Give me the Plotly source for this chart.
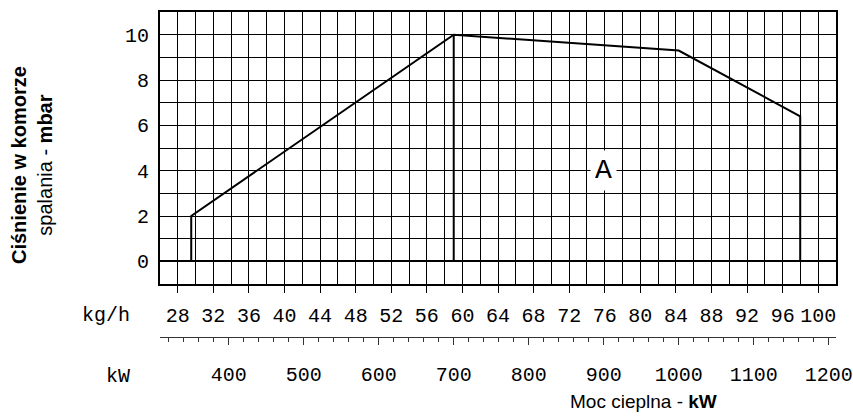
import plotly.graph_objects as go

# ---- data ----
KW_PER_KGH = 11.86                      # conversion kg/h -> kW
curve_kw = [350, 350, 700, 1000, 1162, 1162]
curve_mbar = [0, 2, 10, 9.3, 6.4, 0]
split_kw = [700, 700]
split_mbar = [10, 0]
kgh_ticks = list(range(28, 101, 4))
kw_ticks = list(range(400, 1201, 100))
mbar_ticks = list(range(0, 11, 2))
region_label = "A"
region_pos_kw = (900, 4)                # kW, mbar

X_RANGE_KGH = [26, 102]
Y_RANGE = [-1, 11]

# ---- layout helpers (pixel -> paper) ----
W, H = 853, 419
ML, MR, MT, MB = 160, 17, 12, 19
PW, PH = W - ML - MR, H - MT - MB


def px(x):
    return (x - ML) / PW


def py(y):
    return (H - MB - y) / PH


def to_kgh(values):
    return [v / KW_PER_KGH for v in values]


TICKFONT = dict(family="Liberation Mono, DejaVu Sans Mono, monospace", size=20, color="black")
TITLEFONT = dict(family="Liberation Sans, Arial, sans-serif", size=20, color="black")

fig = go.Figure()
fig.add_trace(go.Scatter(x=to_kgh(curve_kw), y=curve_mbar, xaxis="x", yaxis="y", mode="lines",
                         line=dict(color="black", width=2), showlegend=False, hoverinfo="skip"))
fig.add_trace(go.Scatter(x=to_kgh(split_kw), y=split_mbar, xaxis="x", yaxis="y", mode="lines",
                         line=dict(color="black", width=2), showlegend=False, hoverinfo="skip"))
# invisible trace to activate the kW axis
fig.add_trace(go.Scatter(x=[kw_ticks[0]], y=[0], xaxis="x2", yaxis="y", mode="markers",
                         marker=dict(opacity=0), showlegend=False, hoverinfo="skip"))

fig.update_layout(
    width=W, height=H,
    margin=dict(l=ML, r=MR, t=MT, b=MB, pad=0, autoexpand=False),
    plot_bgcolor="white", paper_bgcolor="white",
    xaxis=dict(
        range=X_RANGE_KGH, tickvals=kgh_ticks, ticktext=[str(v) for v in kgh_ticks],
        showgrid=True, gridcolor="black", gridwidth=1,
        minor=dict(dtick=2, tick0=26, showgrid=True, gridcolor="black", gridwidth=1, ticks=""),
        ticks="outside", ticklen=7, tickwidth=1, tickcolor="black",
        showline=True, linecolor="black", linewidth=2, mirror=True,
        zeroline=False, tickfont=TICKFONT, ticklabelstandoff=5,
        anchor="y", fixedrange=True, automargin=False,
    ),
    xaxis2=dict(
        range=[X_RANGE_KGH[0] * KW_PER_KGH, X_RANGE_KGH[1] * KW_PER_KGH],
        overlaying="x", anchor="free", position=py(336.7), side="bottom",
        tickvals=kw_ticks, ticktext=[str(v) for v in kw_ticks],
        showgrid=False, zeroline=False,
        ticks="outside", ticklen=7, tickwidth=1, tickcolor="#333",
        minor=dict(dtick=20, tick0=0, ticks="outside", ticklen=4, tickwidth=1, tickcolor="#333", showgrid=False),
        showline=True, linecolor="#333", linewidth=1,
        tickfont=TICKFONT, ticklabelstandoff=12, fixedrange=True, automargin=False,
    ),
    yaxis=dict(
        domain=[py(284), 1], range=Y_RANGE, tickvals=mbar_ticks,
        showgrid=True, gridcolor="black", gridwidth=1,
        minor=dict(dtick=1, tick0=0, showgrid=True, gridcolor="black", gridwidth=1, ticks=""),
        ticks="", showline=True, linecolor="black", linewidth=2, mirror=True,
        zeroline=True, zerolinecolor="black", zerolinewidth=2,
        tickfont=TICKFONT, ticklabelstandoff=5, fixedrange=True, automargin=False,
    ),
)

fig.add_annotation(x=region_pos_kw[0] / KW_PER_KGH, y=region_pos_kw[1], xref="x", yref="y",
                   text=region_label, showarrow=False, bgcolor="white", borderpad=4,
                   font=dict(family="Liberation Mono, DejaVu Sans Mono, monospace", size=28, color="black"))

fig.add_annotation(x=px(32), y=py(165), xref="paper", yref="paper", textangle=-90,
                   text="<b>Ciśnienie w komorze</b><br>spalania - <b>mbar</b>",
                   showarrow=False, xanchor="center", yanchor="middle", font=TITLEFONT)
fig.add_annotation(x=px(643), y=py(401), xref="paper", yref="paper",
                   text="Moc cieplna - <b>kW</b>", showarrow=False,
                   xanchor="center", yanchor="middle",
                   font=dict(family="Liberation Sans, Arial, sans-serif", size=19, color="black"))
fig.add_annotation(x=px(132), y=py(315), xref="paper", yref="paper", text="kg/h",
                   showarrow=False, xanchor="right", yanchor="middle", font=TICKFONT)
fig.add_annotation(x=px(132), y=py(376), xref="paper", yref="paper", text="kW",
                   showarrow=False, xanchor="right", yanchor="middle", font=TICKFONT)

fig.write_html("out.html")
